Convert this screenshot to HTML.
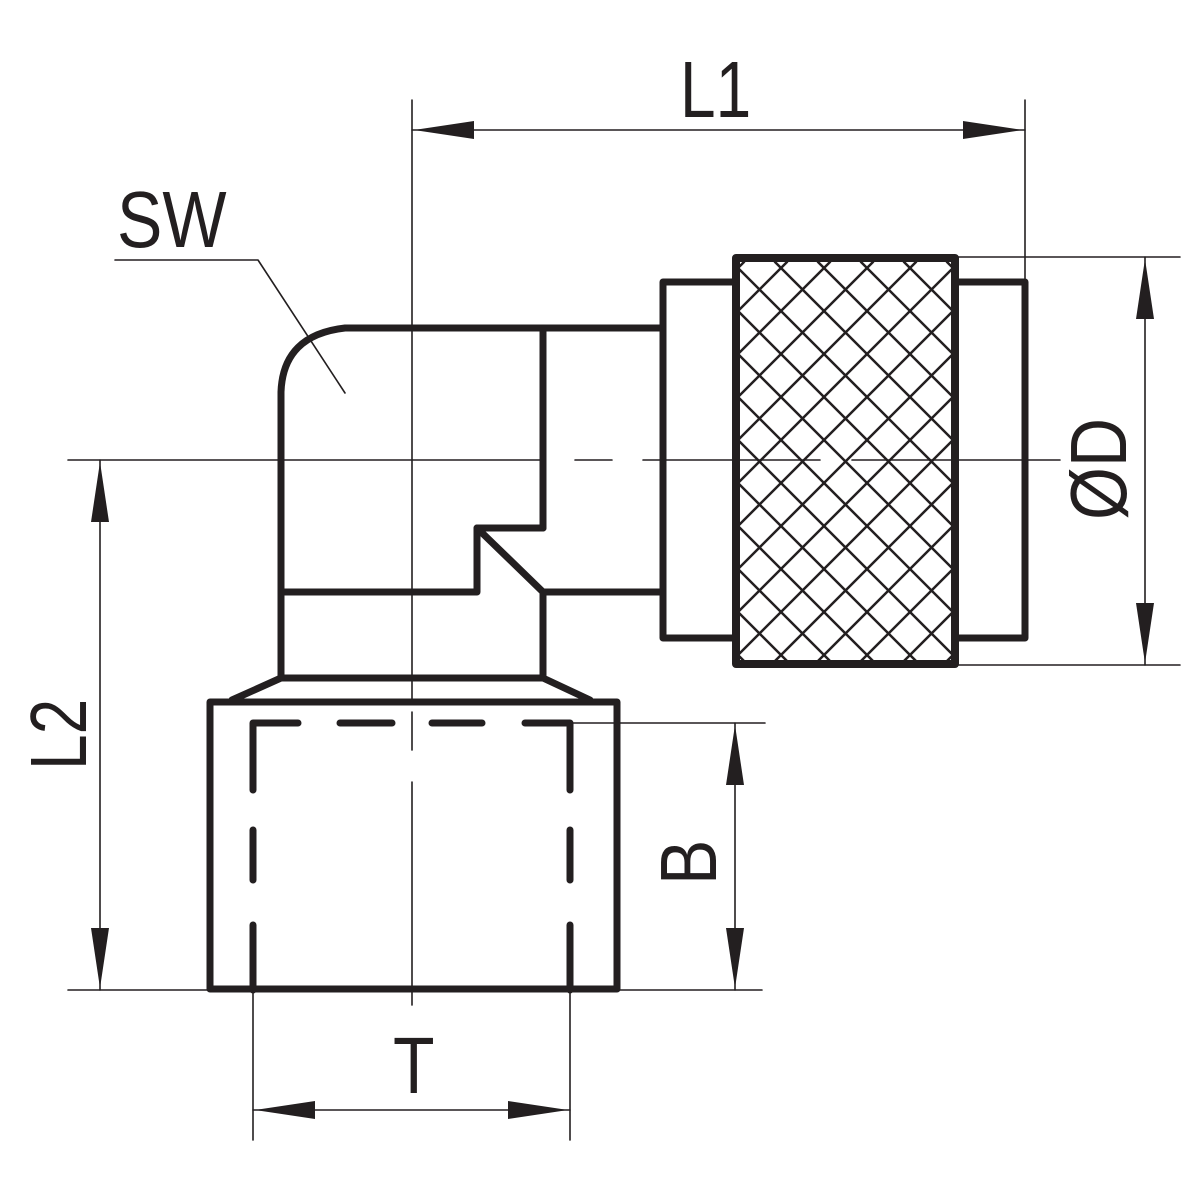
<!DOCTYPE html>
<html><head><meta charset="utf-8"><style>html,body{margin:0;padding:0;background:#fff}svg{display:block}</style></head>
<body>
<svg width="1200" height="1200" viewBox="0 0 1200 1200" xmlns="http://www.w3.org/2000/svg">
<defs>
<clipPath id="kc"><rect x="739" y="262" width="213" height="400"/></clipPath>
</defs>
<g stroke="#231f20" fill="none" stroke-linecap="round" stroke-linejoin="round">
<!-- thin lines -->
<g stroke-width="1.6">
 <line x1="412" y1="100" x2="412" y2="700"/>
 <line x1="1025" y1="100" x2="1025" y2="280"/>
 <line x1="412" y1="130" x2="1025" y2="130"/>
 <line x1="68" y1="460" x2="545" y2="460"/>
 <line x1="575" y1="460" x2="612" y2="460"/>
 <line x1="643" y1="460" x2="820" y2="460"/>
 <line x1="852" y1="460" x2="1060" y2="460"/>
 <line x1="957" y1="257" x2="1180" y2="257"/>
 <line x1="957" y1="665" x2="1180" y2="665"/>
 <line x1="1145" y1="257" x2="1145" y2="665"/>
 <line x1="100" y1="460" x2="100" y2="990"/>
 <line x1="68" y1="990" x2="210" y2="990"/>
 <line x1="617" y1="990" x2="762" y2="990"/>
 <line x1="570" y1="723" x2="765" y2="723"/>
 <line x1="735" y1="723" x2="735" y2="990"/>
 <line x1="412" y1="712" x2="412" y2="750"/>
 <line x1="412" y1="782" x2="412" y2="1005"/>
 <line x1="253" y1="990" x2="253" y2="1140"/>
 <line x1="570" y1="990" x2="570" y2="1140"/>
 <line x1="253" y1="1110" x2="570" y2="1110"/>
 <polyline points="115,260 258,260 345,393"/>
</g>
<!-- arrowheads -->
<g fill="#231f20" stroke="none">
 <polygon points="414,130 474,121 474,139"/>
 <polygon points="1023,130 963,121 963,139"/>
 <polygon points="1145,259 1136,319 1154,319"/>
 <polygon points="1145,663 1136,603 1154,603"/>
 <polygon points="100,462 91,522 109,522"/>
 <polygon points="100,988 91,928 109,928"/>
 <polygon points="735,725 726,785 744,785"/>
 <polygon points="735,988 726,928 744,928"/>
 <polygon points="255,1110 315,1101 315,1119"/>
 <polygon points="568,1110 508,1101 508,1119"/>
</g>
<!-- thick body -->
<g stroke-width="7">
 <path d="M281,678 L281,392 Q283,335 345,328 L660,328"/>
 <line x1="543" y1="328" x2="543" y2="528"/>
 <polyline points="543,528 477,528 477,592 281,592"/>
 <polyline points="477,528 543,592 660,592"/>
 <line x1="543" y1="592" x2="543" y2="678"/>
 <line x1="281" y1="678" x2="543" y2="678"/>
 <polyline points="232,700 281,678"/>
 <polyline points="590,700 543,678"/>
 <rect x="210" y="702" width="407" height="287"/>
 <rect x="663" y="282" width="73" height="356"/>
 <rect x="955" y="282" width="70" height="356"/>
 <g stroke-linecap="round">
  <polyline points="298,723 253,723 253,790"/>
  <line x1="253" y1="830" x2="253" y2="880"/>
  <line x1="253" y1="925" x2="253" y2="990"/>
  <line x1="340" y1="723" x2="392" y2="723"/>
  <line x1="432" y1="723" x2="482" y2="723"/>
  <polyline points="525,723 570,723 570,790"/>
  <line x1="570" y1="830" x2="570" y2="880"/>
  <line x1="570" y1="925" x2="570" y2="990"/>
 </g>
</g>
<!-- knurl -->
<g clip-path="url(#kc)" stroke-width="2.5">
 <path d="M560,262 l400,400 M603,262 l400,400 M646,262 l400,400 M689,262 l400,400 M732,262 l400,400 M775,262 l400,400 M818,262 l400,400 M861,262 l400,400 M904,262 l400,400 M947,262 l400,400 M517,262 l400,400 M474,262 l400,400 M431,262 l400,400 M388,262 l400,400 M345,262 l400,400"/>
 <path d="M1131,262 l-400,400 M1088,262 l-400,400 M1045,262 l-400,400 M1002,262 l-400,400 M959,262 l-400,400 M916,262 l-400,400 M873,262 l-400,400 M830,262 l-400,400 M787,262 l-400,400 M744,262 l-400,400 M1174,262 l-400,400 M1217,262 l-400,400 M1260,262 l-400,400 M1303,262 l-400,400 M1346,262 l-400,400"/>
</g>
<rect x="736" y="258" width="219" height="406" stroke-width="8"/>
</g>
<g fill="#231f20" font-family="Liberation Sans, sans-serif" font-size="80">
 <text x="0" y="0" transform="translate(680,117) scale(0.8,1)">L1</text>
 <text x="0" y="0" transform="translate(117,247) scale(0.85,1)">SW</text>
 <text x="0" y="0" transform="translate(86,770) rotate(-90) scale(0.8,1)">L2</text>
 <text x="0" y="0" transform="translate(716,885) rotate(-90) scale(0.85,1)">B</text>
 <text x="0" y="0" transform="translate(1126,520) rotate(-90) scale(0.85,1)">ØD</text>
 <text x="0" y="0" transform="translate(393,1093) scale(0.85,1)">T</text>
</g>
</svg>
</body></html>
